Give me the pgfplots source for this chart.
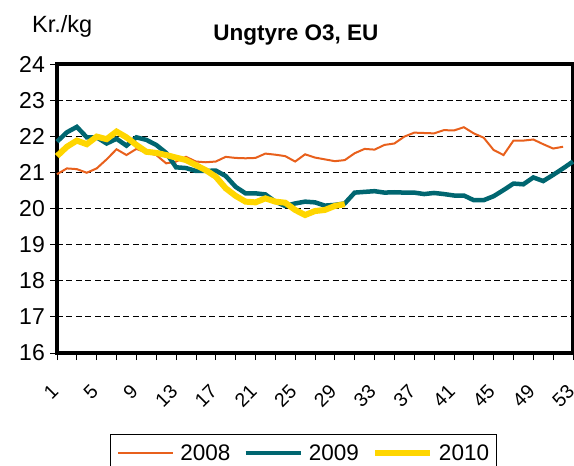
\documentclass[border=0pt]{standalone}
\usepackage{pgfplots}
\pgfplotsset{compat=1.18}
\usepackage{fontspec}
\setmainfont{Liberation Sans}
\definecolor{c08}{RGB}{232,96,28}
\definecolor{c09}{RGB}{0,102,112}
\definecolor{c10}{RGB}{255,214,0}
\begin{document}
\begin{tikzpicture}
\begin{axis}[
  scale only axis, width=516pt, height=289pt,
  xmin=1, xmax=53, ymin=16, ymax=24,
  xtick={1,3,...,53},
  xticklabels={1,,5,,9,,13,,17,,21,,25,,29,,33,,37,,41,,45,,49,,53},
  ytick={16,17,...,24},
  xtick pos=bottom, ytick pos=left,
  tick align=outside, major tick length=7pt,
  tick style={black, line width=0.8pt},
  axis line style={line width=4pt, black},
  ymajorgrids, grid style={black, dashed, line width=0.8pt, dash pattern=on 6pt off 3.5pt},
  /pgf/number format/assume math mode=true,
  yticklabel style={font=\fontsize{23}{26}\selectfont, inner sep=5pt},
  xticklabel style={font=\fontsize{19.5}{22}\selectfont, xshift=-7pt, yshift=-22pt, rotate=45, anchor=north east, inner sep=1pt},
  legend columns=3,
  legend style={at={(axis description cs:0.1027,-0.2803)}, anchor=north west,
    draw=black, line width=0.8pt, font=\fontsize{22.5}{26}\selectfont,
    inner xsep=7pt, inner ysep=10pt,
    nodes={inner sep=0pt},
    /tikz/every odd column/.append style={column sep=6pt},
    /tikz/every even column/.append style={column sep=13pt}},
  legend image code/.code={\draw[#1] (0pt,0pt) -- (55pt,0pt);},
  clip=false,
]
\addplot[c08, line width=2pt] coordinates {
(1,20.95)(2,21.11)(3,21.09)(4,20.99)(5,21.11)(6,21.36)(7,21.64)(8,21.48)(9,21.65)(10,21.55)
(11,21.48)(12,21.25)(13,21.3)(14,21.43)(15,21.3)(16,21.28)(17,21.3)(18,21.43)(19,21.4)(20,21.39)
(21,21.4)(22,21.52)(23,21.49)(24,21.45)(25,21.3)(26,21.5)(27,21.41)(28,21.36)(29,21.31)(30,21.34)
(31,21.53)(32,21.65)(33,21.63)(34,21.76)(35,21.8)(36,21.99)(37,22.1)(38,22.09)(39,22.08)(40,22.17)
(41,22.16)(42,22.25)(43,22.08)(44,21.96)(45,21.62)(46,21.48)(47,21.88)(48,21.88)(49,21.91)(50,21.78)
(51,21.66)(52,21.71)};
\addlegendentry{2008}
\addplot[c09, line width=4.5pt] coordinates {
(1,21.85)(2,22.11)(3,22.26)(4,21.97)(5,21.97)(6,21.8)(7,21.93)(8,21.74)(9,21.97)(10,21.9)
(11,21.76)(12,21.54)(13,21.14)(14,21.12)(15,21.04)(16,21.04)(17,21.05)(18,20.9)(19,20.6)(20,20.42)
(21,20.42)(22,20.39)(23,20.19)(24,20.07)(25,20.14)(26,20.19)(27,20.17)(28,20.08)(29,20.1)(30,20.14)
(31,20.44)(32,20.46)(33,20.48)(34,20.44)(35,20.45)(36,20.44)(37,20.44)(38,20.4)(39,20.43)(40,20.4)
(41,20.36)(42,20.36)(43,20.23)(44,20.23)(45,20.34)(46,20.51)(47,20.69)(48,20.67)(49,20.86)(50,20.76)
(51,20.93)(52,21.11)(53,21.3)};
\addlegendentry{2009}
\addplot[c10, line width=6pt] coordinates {
(1,21.45)(2,21.71)(3,21.88)(4,21.78)(5,21.99)(6,21.92)(7,22.13)(8,21.97)(9,21.76)(10,21.57)
(11,21.54)(12,21.48)(13,21.41)(14,21.34)(15,21.2)(16,21.06)(17,20.88)(18,20.56)(19,20.35)(20,20.19)
(21,20.17)(22,20.28)(23,20.19)(24,20.16)(25,19.96)(26,19.82)(27,19.93)(28,19.96)(29,20.07)(30,20.12)};
\addlegendentry{2010}
\node[font=\bfseries\fontsize{22.5}{26}\selectfont, anchor=base] at (axis description cs:0.463,1) [yshift=24pt] {Ungtyre O3, EU};
\node[font=\fontsize{23.5}{27}\selectfont, anchor=base west, inner sep=0pt] at (axis description cs:0,1) [xshift=-25pt, yshift=32pt] {Kr./kg};
\end{axis}
\pgfresetboundingbox
\path[use as bounding box] (-57pt,-113pt) rectangle (517pt,353pt);
\end{tikzpicture}
\end{document}
